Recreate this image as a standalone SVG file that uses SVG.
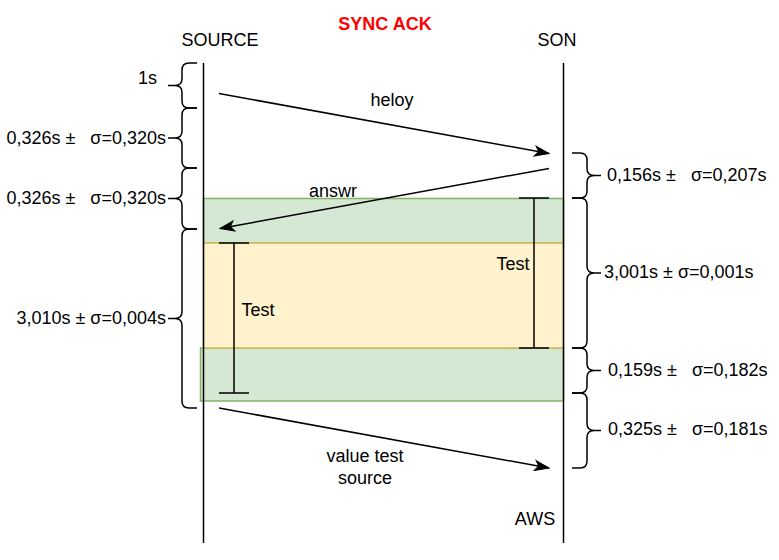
<svg xmlns="http://www.w3.org/2000/svg" width="779" height="560" viewBox="0 0 779 560">
<style>
text{font-family:"Liberation Sans",Arial,Helvetica,sans-serif;font-size:18px;fill:#000}
.c{text-anchor:middle}
.e{text-anchor:end}
.ln{stroke:#000;stroke-width:1.5;fill:none}
.br{stroke:#000;stroke-width:1.5;fill:none;stroke-linejoin:round}
.arr{stroke:#000;stroke-width:1.5;fill:none;marker-end:url(#ah)}
.green{fill:#d5e8d4;stroke:#82b366;stroke-width:1.5}
.yellow{fill:#fff2cc;stroke:#d6b656;stroke-width:1.5}
.title{font-weight:bold;fill:#ff0000}
</style>
<defs>
<marker id="ah" markerUnits="userSpaceOnUse" markerWidth="16" markerHeight="12" viewBox="0 0 16 12" refX="15" refY="6" orient="auto">
<path d="M1,1 L15,6 L1,11 L4.5,6 Z" fill="#000" stroke="#000" stroke-width="1"/>
</marker>
</defs>
<rect width="779" height="560" fill="#fff"/>
<g id="phase-green-1"><rect class="green" x="203.5" y="198.5" width="360" height="44.5"/></g>
<g id="phase-green-2"><rect class="green" x="200.5" y="348" width="363" height="53"/></g>
<g id="phase-yellow"><rect class="yellow" x="203.5" y="243" width="360" height="105"/></g>
<g id="title"><text class="c title" x="385" y="30">SYNC ACK</text></g>
<g id="source"><text class="c" x="220" y="46">SOURCE</text><line class="ln" x1="203.5" y1="63" x2="203.5" y2="543"/></g>
<g id="son"><text class="c" x="557" y="46">SON</text><line class="ln" x1="563.5" y1="63" x2="563.5" y2="543"/><text class="c" x="535" y="525">AWS</text></g>
<g id="test-left"><path class="ln" d="M234,243 V393 M219,243 H249 M219,393 H249"/><text class="c" x="258" y="316">Test</text></g>
<g id="test-right"><path class="ln" d="M534,198 V348 M519,198 H549 M519,348 H549"/><text class="c" x="513" y="270">Test</text></g>
<g id="braces-left">
<path class="br" d="M197,63 L189,63 Q182,63 182,70 L182,78.5 Q182,85.5 175,85.5 L168,85.5 M175,85.5 Q182,85.5 182,92.5 L182,101 Q182,108 189,108 L197,108"/>
<text class="e" x="157" y="84">1s</text>
<path class="br" d="M197,108 L189,108 Q182,108 182,115 L182,131 Q182,138 175,138 L168,138 M175,138 Q182,138 182,145 L182,161 Q182,168 189,168 L197,168"/>
<text class="e" x="166" y="144" xml:space="preserve">0,326s ±   σ=0,320s</text>
<path class="br" d="M197,168 L189,168 Q182,168 182,175 L182,191.5 Q182,198.5 175,198.5 L168,198.5 M175,198.5 Q182,198.5 182,205.5 L182,222 Q182,229 189,229 L197,229"/>
<text class="e" x="166" y="204" xml:space="preserve">0,326s ±   σ=0,320s</text>
<path class="br" d="M197,229 L189,229 Q182,229 182,236 L182,311.5 Q182,318.5 175,318.5 L168,318.5 M175,318.5 Q182,318.5 182,325.5 L182,401 Q182,408 189,408 L197,408"/>
<text class="e" x="166" y="324">3,010s ± σ=0,004s</text>
</g>
<g id="braces-right">
<path class="br" d="M572,153 L580,153 Q587,153 587,160 L587,168.5 Q587,175.5 594,175.5 L601,175.5 M594,175.5 Q587,175.5 587,182.5 L587,191 Q587,198 580,198 L572,198"/>
<text x="607" y="181" xml:space="preserve">0,156s ±   σ=0,207s</text>
<path class="br" d="M572,198 L580,198 Q587,198 587,205 L587,266 Q587,273 594,273 L601,273 M594,273 Q587,273 587,280 L587,341 Q587,348 580,348 L572,348"/>
<text x="604" y="278">3,001s ± σ=0,001s</text>
<path class="br" d="M572,348 L580,348 Q587,348 587,355 L587,363.5 Q587,370.5 594,370.5 L601,370.5 M594,370.5 Q587,370.5 587,377.5 L587,386 Q587,393 580,393 L572,393"/>
<text x="608" y="376" xml:space="preserve">0,159s ±   σ=0,182s</text>
<path class="br" d="M572,393 L580,393 Q587,393 587,400 L587,423.5 Q587,430.5 594,430.5 L601,430.5 M594,430.5 Q587,430.5 587,437.5 L587,461 Q587,468 580,468 L572,468"/>
<text x="608" y="435" xml:space="preserve">0,325s ±   σ=0,181s</text>
</g>
<g id="connectors">
<line class="arr" x1="219" y1="93.5" x2="549" y2="153.5"/>
<text class="c" x="392" y="106">heloy</text>
<line class="arr" x1="549" y1="168.5" x2="220" y2="228.5"/>
<text class="c" x="333" y="197">answr</text>
<line class="arr" x1="219" y1="408" x2="549" y2="468"/>
<text class="c" x="365" y="462">value test</text>
<text class="c" x="365" y="484">source</text>
</g>
</svg>
